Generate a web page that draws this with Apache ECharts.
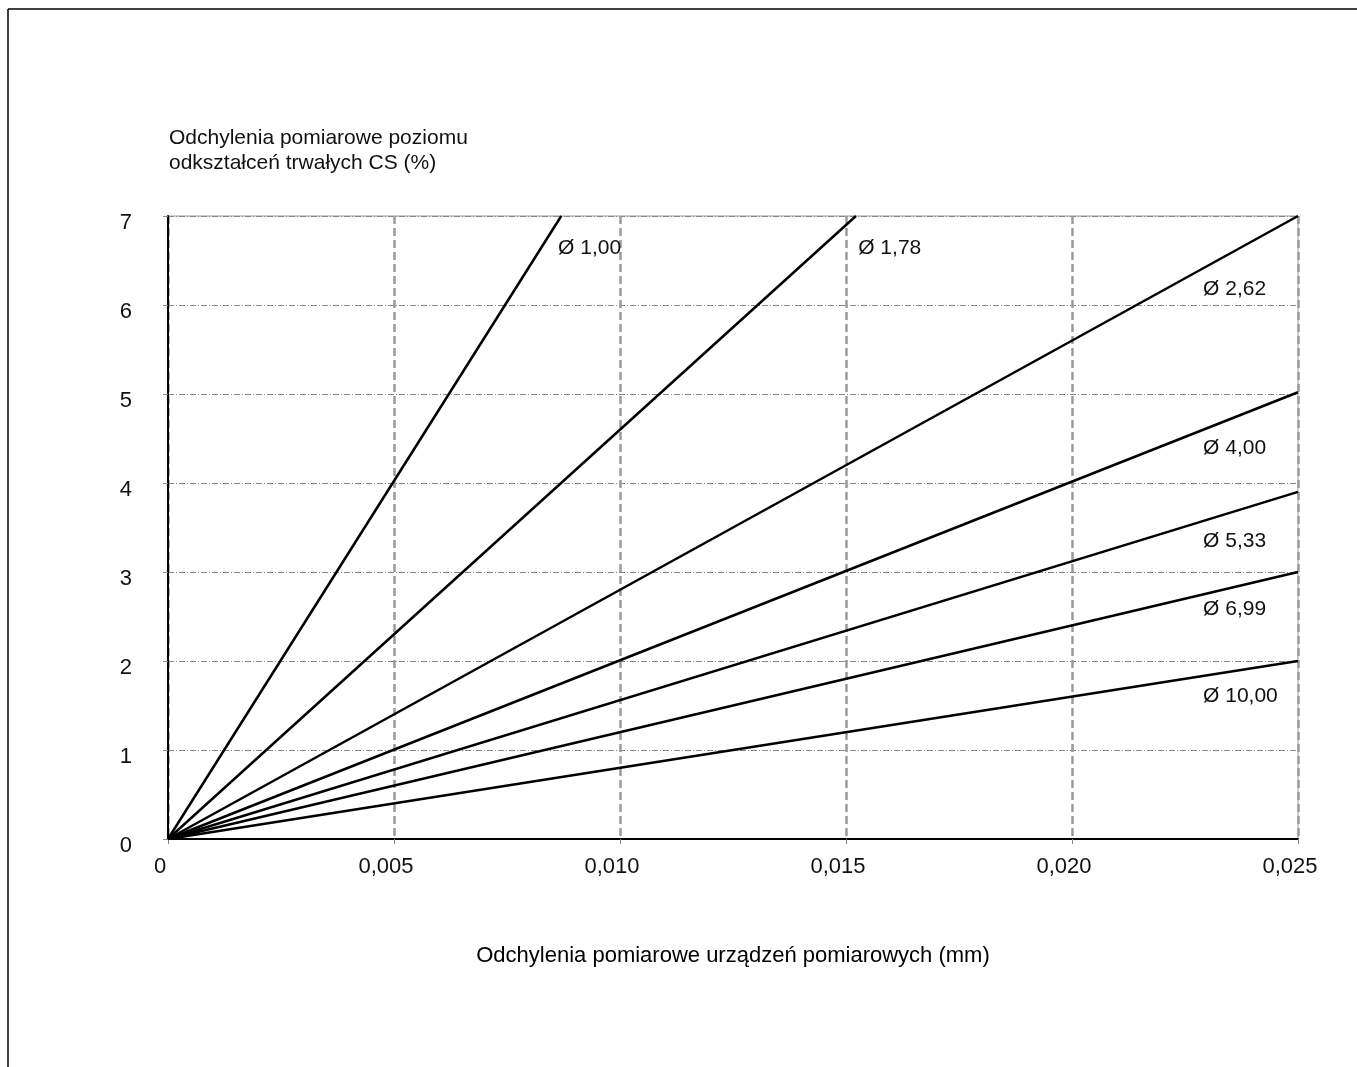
<!DOCTYPE html>
<html>
<head>
<meta charset="utf-8">
<script src="https://cdn.jsdelivr.net/npm/echarts@6/dist/echarts.min.js"></script>
<style>
html,body{margin:0;padding:0;background:#fff;}
#c{width:1357px;height:1067px;}
</style>
</head>
<body>
<div id="c"></div>
<script>
// Data
var seriesNames = ['Ø 1,00', 'Ø 1,78', 'Ø 2,62', 'Ø 4,00', 'Ø 5,33', 'Ø 6,99', 'Ø 10,00'];
var startPoint = [0, 0];
var endPoints = [
  [0.0087, 7],
  [0.01522, 7],
  [0.025, 7],
  [0.025, 5.02],
  [0.025, 3.9],
  [0.025, 3.0],
  [0.025, 2.0]
];
var labelPoints = [
  [0.00863, 6.64],
  [0.01527, 6.64],
  [0.0229, 6.18],
  [0.0229, 4.39],
  [0.0229, 3.35],
  [0.0229, 2.58],
  [0.0229, 1.60]
];
var xTicks = [0, 0.005, 0.010, 0.015, 0.020, 0.025];
var yTicks = [0, 1, 2, 3, 4, 5, 6, 7];
var yTitle = 'Odchylenia pomiarowe poziomu\nodkształceń trwałych CS (%)';
var xTitle = 'Odchylenia pomiarowe urządzeń pomiarowych (mm)';

var FONT = '"Liberation Sans Narrow", "Arial Narrow", "Liberation Sans", Arial, sans-serif';

var series = seriesNames.map(function (n, i) {
  return {
    type: 'line',
    name: n,
    data: [startPoint, endPoints[i]],
    symbol: 'none',
    lineStyle: { color: '#000', width: 2.5 },
    z: 3,
    silent: true
  };
});
series.push({
  type: 'scatter',
  name: 'labels',
  symbolSize: 0,
  itemStyle: { opacity: 1, color: '#000' },
  data: labelPoints.map(function (p, i) { return { value: p, name: seriesNames[i] }; }),
  label: {
    show: true,
    position: 'right',
    distance: 0,
    formatter: function (p) { return p.name; },
    color: '#111',
    opacity: 1,
    fontFamily: FONT,
    fontSize: 21
  },
  silent: true,
  z: 4
});

var chart = echarts.init(document.getElementById('c'));
chart.setOption({
  backgroundColor: '#fff',
  animation: false,
  title: {
    text: yTitle,
    left: 164,
    top: 121,
    textStyle: { fontFamily: FONT, fontSize: 21, fontWeight: 'normal', color: '#111', lineHeight: 25 }
  },
  grid: {
    left: 168, right: 59, top: 216, bottom: 228,
    show: true, borderColor: '#999', borderWidth: 1, backgroundColor: 'transparent'
  },
  xAxis: {
    type: 'value',
    min: 0, max: 0.025, interval: 0.005,
    name: xTitle,
    nameLocation: 'middle',
    nameGap: 106,
    nameTextStyle: { fontFamily: FONT, fontSize: 22, color: '#000' },
    axisLine: { show: true, lineStyle: { color: '#000', width: 2 } },
    axisTick: { show: true, length: 5, lineStyle: { color: '#888' } },
    axisLabel: {
      fontFamily: FONT, fontSize: 22, color: '#111', margin: 17,
      padding: [0, 16, 0, 0],
      formatter: function (v) {
        var s = xTicks.reduce(function (a, t) { return Math.abs(t - v) < 1e-9 ? t : a; }, v);
        return s === 0 ? '0' : s.toFixed(3).replace('.', ',');
      }
    },
    splitLine: { show: true, lineStyle: { color: '#9a9a9a', width: 2.5, type: [8, 4] } }
  },
  yAxis: {
    type: 'value',
    min: 0, max: 7, interval: 1,
    axisLine: { show: true, lineStyle: { color: '#000', width: 2 } },
    axisTick: { show: true, length: 5, lineStyle: { color: '#888' } },
    axisLabel: {
      fontFamily: FONT, fontSize: 22, color: '#111', margin: 36,
      verticalAlign: 'top', lineHeight: 14,
      formatter: function (v) { return String(Math.round(v)); }
    },
    splitLine: { show: true, lineStyle: { color: '#888', width: 1, type: [6, 2, 1, 2] } }
  },
  graphic: [
    { type: 'line', shape: { x1: 8, y1: 9, x2: 1357, y2: 9 }, style: { stroke: '#000', lineWidth: 1.5 } },
    { type: 'line', shape: { x1: 8, y1: 9, x2: 8, y2: 1067 }, style: { stroke: '#000', lineWidth: 1.5 } }
  ],
  series: series
});
</script>
</body>
</html>
